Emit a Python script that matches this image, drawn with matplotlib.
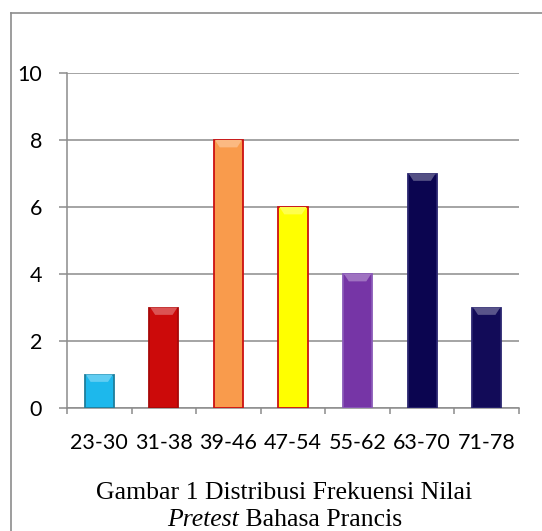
import matplotlib
matplotlib.use("Agg")
import matplotlib.pyplot as plt
from matplotlib.patches import Polygon
from matplotlib.lines import Line2D
from matplotlib.colors import to_rgb
import numpy as np

categories = ["23-30", "31-38", "39-46", "47-54", "55-62", "63-70", "71-78"]
frequencies = [1, 3, 8, 6, 4, 7, 3]
face_colors = ["#1DB8EC", "#CC0A0A", "#F99B4C", "#FFFF00", "#7635A6", "#0B0550", "#120B58"]
edge_colors = ["#1F7E9C", "#A80808", "#CC1010", "#CC1010", "#8A5AB8", "#2A2570", "#2A2570"]
y_ticks = [0, 2, 4, 6, 8, 10]
caption_line1 = "Gambar 1 Distribusi Frekuensi Nilai"
caption_line2_italic = "Pretest"
caption_line2_rest = " Bahasa Prancis"

W, H = 542, 531
fig = plt.figure(figsize=(W / 100, H / 100), dpi=100)

# outer frame of the figure box (left and top edges visible)
fig.add_artist(Line2D([11 / W, 11 / W], [0, 1 - 13 / H], color="#8C8C8C", lw=1.2, transform=fig.transFigure))
fig.add_artist(Line2D([11 / W, 1], [1 - 13 / H, 1 - 13 / H], color="#8C8C8C", lw=1.2, transform=fig.transFigure))

left, right = 67 / W, 519 / W
bottom, top = 1 - 408 / H, 1 - 73 / H
ax = fig.add_axes([left, bottom, right - left, top - bottom])

x = np.arange(len(categories))
bar_w = 0.45
bars = ax.bar(x, frequencies, width=bar_w, color=face_colors, edgecolor=edge_colors,
              linewidth=1.3, zorder=3)


def lighten(c, f):
    r, g, b = to_rgb(c)
    return (r + (1 - r) * f, g + (1 - g) * f, b + (1 - b) * f)


# bevelled top cap on each bar
cap_h = 0.22
inset = 0.09
for xi, v, fc in zip(x, frequencies, face_colors):
    x0, x1 = xi - bar_w / 2, xi + bar_w / 2
    cap = Polygon([(x0 + 0.015, v), (x1 - 0.015, v), (x1 - inset, v - cap_h), (x0 + inset, v - cap_h)],
                  closed=True, facecolor=lighten(fc, 0.3), edgecolor="none", zorder=4)
    ax.add_patch(cap)

ax.set_xlim(-0.5, len(categories) - 0.5)
ax.set_ylim(0, 10)
ax.set_yticks(y_ticks)
ax.set_yticklabels([str(t) for t in y_ticks], fontsize=15.5, family="Lato")
ax.grid(axis="y", color="#8C8C8C", lw=1.1, zorder=0)
ax.set_axisbelow(True)

ax.set_xticks(x)
ax.set_xticklabels(categories, fontsize=15.5, family="Lato")
ax.set_xticks(np.arange(len(categories) + 1) - 0.5, minor=True)
ax.tick_params(axis="x", which="major", length=0, pad=18)
ax.tick_params(axis="x", which="minor", length=4, width=1.1, color="#8C8C8C", direction="out")
ax.tick_params(axis="y", length=6, width=1.1, color="#8C8C8C", direction="out", pad=12)

for s in ["top", "right"]:
    ax.spines[s].set_visible(False)
for s in ["left", "bottom"]:
    ax.spines[s].set_color("#8C8C8C")
    ax.spines[s].set_linewidth(1.1)

cx = 284.5 / W
fig.text(cx, 1 - 493 / H, caption_line1, ha="center", va="center",
         family="Liberation Serif", fontsize=18.5)
t1 = fig.text(0, 1 - 520 / H, caption_line2_italic, ha="left", va="center",
              family="Liberation Serif", style="italic", fontsize=18.5)
t2 = fig.text(0, 1 - 520 / H, caption_line2_rest, ha="left", va="center",
              family="Liberation Serif", fontsize=18.5)
r = fig.canvas.get_renderer()
w1 = t1.get_window_extent(r).width
w2 = t2.get_window_extent(r).width
start = cx * W - (w1 + w2) / 2
t1.set_x(start / W)
t2.set_x((start + w1) / W)

fig.savefig("out.png", dpi=100)
